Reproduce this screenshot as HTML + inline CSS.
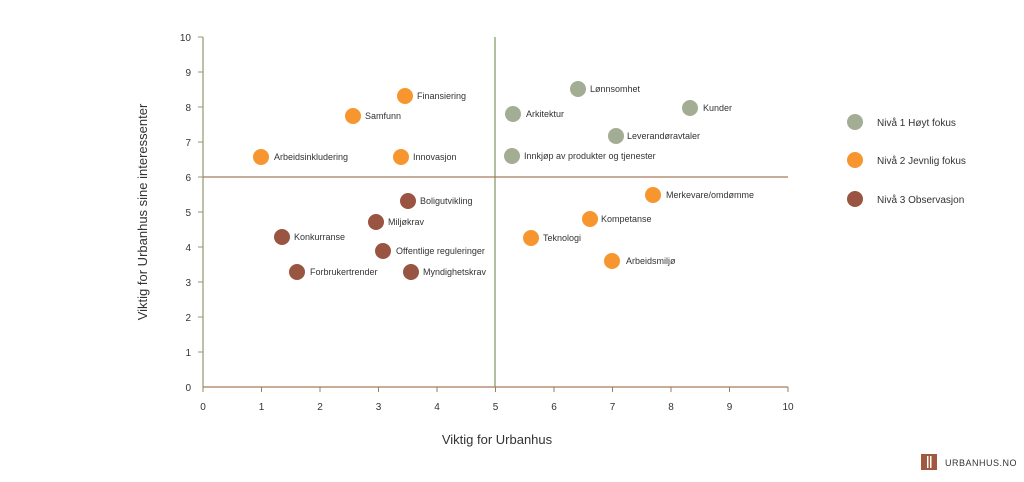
<!DOCTYPE html>
<html><head><meta charset="utf-8"><style>
body{margin:0;background:#fff;width:1024px;height:477px;overflow:hidden}
text{font-family:"Liberation Sans",sans-serif;fill:#333}
</style></head><body>
<svg width="1024" height="477" xmlns="http://www.w3.org/2000/svg">
<g stroke-width="1.2">
<line x1="203" y1="37" x2="203" y2="387" stroke="#8f9a70"/>
<line x1="203" y1="387" x2="788" y2="387" stroke="#a47a5c"/>
<line x1="495" y1="37" x2="495" y2="387" stroke="#7c9a5c"/>
<line x1="203" y1="177" x2="788" y2="177" stroke="#a47a5c"/>
</g>
<g stroke="#8f9a70">
<line x1="198" y1="37" x2="203" y2="37"/><line x1="198" y1="72" x2="203" y2="72"/><line x1="198" y1="107" x2="203" y2="107"/><line x1="198" y1="142" x2="203" y2="142"/><line x1="198" y1="177" x2="203" y2="177"/><line x1="198" y1="212" x2="203" y2="212"/><line x1="198" y1="247" x2="203" y2="247"/><line x1="198" y1="282" x2="203" y2="282"/><line x1="198" y1="317" x2="203" y2="317"/><line x1="198" y1="352" x2="203" y2="352"/>
</g>
<g stroke="#a47a5c">
<line x1="203" y1="387" x2="203" y2="392"/><line x1="261.5" y1="387" x2="261.5" y2="392"/><line x1="320" y1="387" x2="320" y2="392"/><line x1="378.5" y1="387" x2="378.5" y2="392"/><line x1="437" y1="387" x2="437" y2="392"/><line x1="495.5" y1="387" x2="495.5" y2="392"/><line x1="554" y1="387" x2="554" y2="392"/><line x1="612.5" y1="387" x2="612.5" y2="392"/><line x1="671" y1="387" x2="671" y2="392"/><line x1="729.5" y1="387" x2="729.5" y2="392"/><line x1="788" y1="387" x2="788" y2="392"/>
</g>
<g font-size="10" text-anchor="end">
<text x="191" y="41">10</text><text x="191" y="76">9</text><text x="191" y="111">8</text><text x="191" y="146">7</text><text x="191" y="181">6</text><text x="191" y="216">5</text><text x="191" y="251">4</text><text x="191" y="286">3</text><text x="191" y="321">2</text><text x="191" y="356">1</text><text x="191" y="391">0</text>
</g>
<g font-size="10" text-anchor="middle">
<text x="203" y="410">0</text><text x="261.5" y="410">1</text><text x="320" y="410">2</text><text x="378.5" y="410">3</text><text x="437" y="410">4</text><text x="495.5" y="410">5</text><text x="554" y="410">6</text><text x="612.5" y="410">7</text><text x="671" y="410">8</text><text x="729.5" y="410">9</text><text x="788" y="410">10</text>
</g>
<text x="497" y="444" font-size="13" text-anchor="middle">Viktig for Urbanhus</text>
<text transform="translate(147,212) rotate(-90)" font-size="13" text-anchor="middle">Viktig for Urbanhus sine interessenter</text>
<g font-size="9">
<circle cx="405" cy="96" r="8" fill="#f7962f"/><text x="417" y="99">Finansiering</text>
<circle cx="353" cy="116" r="8" fill="#f7962f"/><text x="365" y="119">Samfunn</text>
<circle cx="261" cy="157" r="8" fill="#f7962f"/><text x="274" y="160">Arbeidsinkludering</text>
<circle cx="401" cy="157" r="8" fill="#f7962f"/><text x="413" y="160">Innovasjon</text>
<circle cx="578" cy="89" r="8" fill="#a3ad94"/><text x="590" y="92">Lønnsomhet</text>
<circle cx="690" cy="108" r="8" fill="#a3ad94"/><text x="703" y="111">Kunder</text>
<circle cx="513" cy="114" r="8" fill="#a3ad94"/><text x="526" y="117">Arkitektur</text>
<circle cx="616" cy="136" r="8" fill="#a3ad94"/><text x="627" y="139">Leverandøravtaler</text>
<circle cx="512" cy="156" r="8" fill="#a3ad94"/><text x="524" y="159">Innkjøp av produkter og tjenester</text>
<circle cx="408" cy="201" r="8" fill="#9a5442"/><text x="420" y="204">Boligutvikling</text>
<circle cx="376" cy="222" r="8" fill="#9a5442"/><text x="388" y="225">Miljøkrav</text>
<circle cx="282" cy="237" r="8" fill="#9a5442"/><text x="294" y="240">Konkurranse</text>
<circle cx="383" cy="251" r="8" fill="#9a5442"/><text x="396" y="254">Offentlige reguleringer</text>
<circle cx="297" cy="272" r="8" fill="#9a5442"/><text x="310" y="275">Forbrukertrender</text>
<circle cx="411" cy="272" r="8" fill="#9a5442"/><text x="423" y="275">Myndighetskrav</text>
<circle cx="653" cy="195" r="8" fill="#f7962f"/><text x="666" y="198">Merkevare/omdømme</text>
<circle cx="590" cy="219" r="8" fill="#f7962f"/><text x="601" y="222">Kompetanse</text>
<circle cx="531" cy="238" r="8" fill="#f7962f"/><text x="543" y="241">Teknologi</text>
<circle cx="612" cy="261" r="8" fill="#f7962f"/><text x="626" y="264">Arbeidsmiljø</text>
</g>
<g font-size="10">
<circle cx="855" cy="122" r="8" fill="#a3ad94"/><text x="877" y="126">Nivå 1 Høyt fokus</text>
<circle cx="855" cy="160" r="8" fill="#f7962f"/><text x="877" y="164">Nivå 2 Jevnlig fokus</text>
<circle cx="855" cy="199" r="8" fill="#9a5442"/><text x="877" y="203">Nivå 3 Observasjon</text>
</g>
<rect x="921" y="454" width="16" height="16" fill="#a0583e"/>
<rect x="927" y="456" width="1.5" height="12" fill="#fff"/><rect x="930" y="456" width="1.5" height="12" fill="#fff"/>
<text x="945" y="466" font-size="9" fill="#444" letter-spacing="0.5">URBANHUS.NO</text>
</svg>
</body></html>
